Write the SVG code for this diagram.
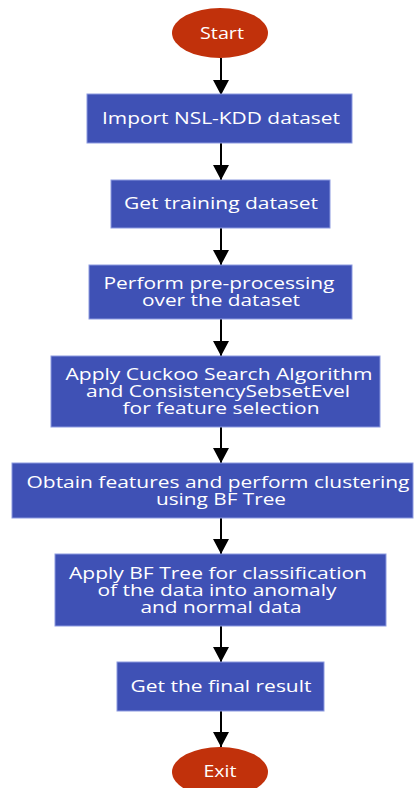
<svg xmlns="http://www.w3.org/2000/svg" width="418" height="788" viewBox="0 0 418 788">
<style>
.box{fill:#3F51B5;stroke:#8C9AE0;stroke-width:1}
.term{fill:#C1310B}
.t{font-family:"Open Sans","Noto Sans","DejaVu Sans",sans-serif;font-size:16.5px;fill:#FFFFFF;text-anchor:middle}
.c{stroke:#000;stroke-width:2;fill:none;marker-end:url(#ah)}
</style>
<defs>
<marker id="ah" markerUnits="userSpaceOnUse" markerWidth="16" markerHeight="16" viewBox="0 0 16 16" refX="15" refY="8" orient="auto">
<path d="M0,0 L15,8 L0,16 Z" fill="#000"/>
</marker>
</defs>
<rect width="418" height="788" fill="#FFFFFF"/>
<g id="connectors">
<line class="c" x1="221" y1="58" x2="221" y2="95"/>
<line class="c" x1="221" y1="143" x2="221" y2="180"/>
<line class="c" x1="221" y1="228" x2="221" y2="265"/>
<line class="c" x1="221" y1="319" x2="221" y2="356"/>
<line class="c" x1="221" y1="427" x2="221" y2="463"/>
<line class="c" x1="221" y1="518" x2="221" y2="554"/>
<line class="c" x1="221" y1="626" x2="221" y2="662"/>
<line class="c" x1="221" y1="711" x2="221" y2="747"/>
</g>
<g id="start">
<ellipse class="term" cx="220" cy="33" rx="48" ry="25"/>
<text class="t" x="222" y="39" textLength="44" lengthAdjust="spacingAndGlyphs">Start</text>
</g>
<g id="import">
<rect class="box" x="87" y="94" width="265" height="49"/>
<text class="t" x="221" y="124" textLength="238" lengthAdjust="spacingAndGlyphs">Import NSL-KDD dataset</text>
</g>
<g id="training">
<rect class="box" x="111" y="180" width="219" height="48"/>
<text class="t" x="221" y="209" textLength="194" lengthAdjust="spacingAndGlyphs">Get training dataset</text>
</g>
<g id="preprocess">
<rect class="box" x="89" y="265" width="263" height="54"/>
<text class="t" x="219" y="289" textLength="231" lengthAdjust="spacingAndGlyphs">Perform pre-processing</text>
<text class="t" x="221" y="306" textLength="158" lengthAdjust="spacingAndGlyphs">over the dataset</text>
</g>
<g id="cuckoo">
<rect class="box" x="51" y="356" width="329" height="71"/>
<text class="t" x="219" y="380" textLength="307" lengthAdjust="spacingAndGlyphs">Apply Cuckoo Search Algorithm</text>
<text class="t" x="218" y="397" textLength="264" lengthAdjust="spacingAndGlyphs">and ConsistencySebsetEvel</text>
<text class="t" x="221" y="414" textLength="197" lengthAdjust="spacingAndGlyphs">for feature selection</text>
</g>
<g id="cluster">
<rect class="box" x="12" y="463" width="401" height="55"/>
<text class="t" x="218" y="488" textLength="383" lengthAdjust="spacingAndGlyphs">Obtain features and perform clustering</text>
<text class="t" x="221" y="505" textLength="130" lengthAdjust="spacingAndGlyphs">using BF Tree</text>
</g>
<g id="classify">
<rect class="box" x="55" y="554" width="331" height="72"/>
<text class="t" x="218" y="579" textLength="298" lengthAdjust="spacingAndGlyphs">Apply BF Tree for classification</text>
<text class="t" x="217" y="596" textLength="239" lengthAdjust="spacingAndGlyphs">of the data into anomaly</text>
<text class="t" x="221" y="613" textLength="161" lengthAdjust="spacingAndGlyphs">and normal data</text>
</g>
<g id="result">
<rect class="box" x="117" y="662" width="207" height="49"/>
<text class="t" x="221" y="692" textLength="181" lengthAdjust="spacingAndGlyphs">Get the final result</text>
</g>
<g id="exit">
<ellipse class="term" cx="220" cy="772" rx="48" ry="25"/>
<text class="t" x="220" y="777" textLength="33" lengthAdjust="spacingAndGlyphs">Exit</text>
</g>
</svg>
